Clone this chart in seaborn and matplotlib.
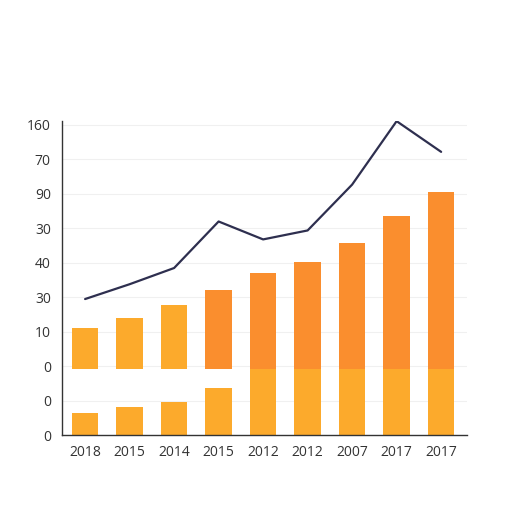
import numpy as np
import matplotlib
matplotlib.use("Agg")
import matplotlib.pyplot as plt
import seaborn as sns

sns.set_style("white")
plt.rcParams["font.family"] = ["Open Sans", "DejaVu Sans"]

# =========================
# DATA
# =========================
x_labels = ["2018", "2015", "2014", "2015", "2012", "2012", "2007", "2017", "2017"]
y_tick_labels = ["0", "0", "0", "10", "30", "40", "30", "90", "70", "160"]
lower_vals = [0.63, 0.81, 0.95, 1.38, 1.93, 1.93, 1.93, 1.93, 1.93]
upper_base = 1.93
upper_tops = [3.12, 3.40, 3.78, 4.21, 4.70, 5.02, 5.57, 6.37, 7.05]
line_vals = [3.95, 4.38, 4.85, 6.20, 5.68, 5.94, 7.27, 9.11, 8.22]

light = "#FCAA2C"
dark = "#FA8E2E"
navy = "#2E2F4F"

idx = np.arange(len(x_labels))
upper_colors = [light, light, light] + [dark] * 6

fig = plt.figure(figsize=(5.12, 5.12), dpi=100)
ax = fig.add_axes([0.121, 0.150, 0.791, 0.614])

# faint grid
for t in range(len(y_tick_labels)):
    ax.axhline(t, color="#f0f0f0", lw=0.8, zorder=0)

# lower segments
sns.barplot(x=idx, y=lower_vals, color=light, width=0.6, saturation=1,
            linewidth=0, ax=ax, zorder=2)

# upper segments
sns.barplot(x=idx, y=[t - upper_base for t in upper_tops], bottom=upper_base,
            hue=idx, palette=upper_colors, width=0.6, saturation=1,
            linewidth=0, legend=False, ax=ax, zorder=2)

sns.lineplot(x=idx, y=line_vals, color=navy, lw=1.6, ax=ax, zorder=3)

ax.set_xlim(-0.52, 8.58)
ax.set_ylim(0, 9.12)

ax.set_yticks(range(len(y_tick_labels)))
ax.set_yticklabels(y_tick_labels, fontsize=10, color="#333333")
ax.set_xticks(idx)
ax.set_xticklabels(x_labels, fontsize=10, color="#333333")
ax.set_xticks(np.arange(-0.5, 9, 1), minor=True)
ax.tick_params(axis="x", which="major", length=0, pad=7)
ax.tick_params(axis="x", which="minor", length=4, color="#333333", width=0.9)
ax.tick_params(axis="y", length=4, color="#333333", width=0.9, pad=4)

for s in ["top", "right"]:
    ax.spines[s].set_visible(False)
for s in ["left", "bottom"]:
    ax.spines[s].set_color("#333333")
    ax.spines[s].set_linewidth(1.0)

ax.set_xlabel("")
ax.set_ylabel("")

fig.savefig("out.png", dpi=100)
